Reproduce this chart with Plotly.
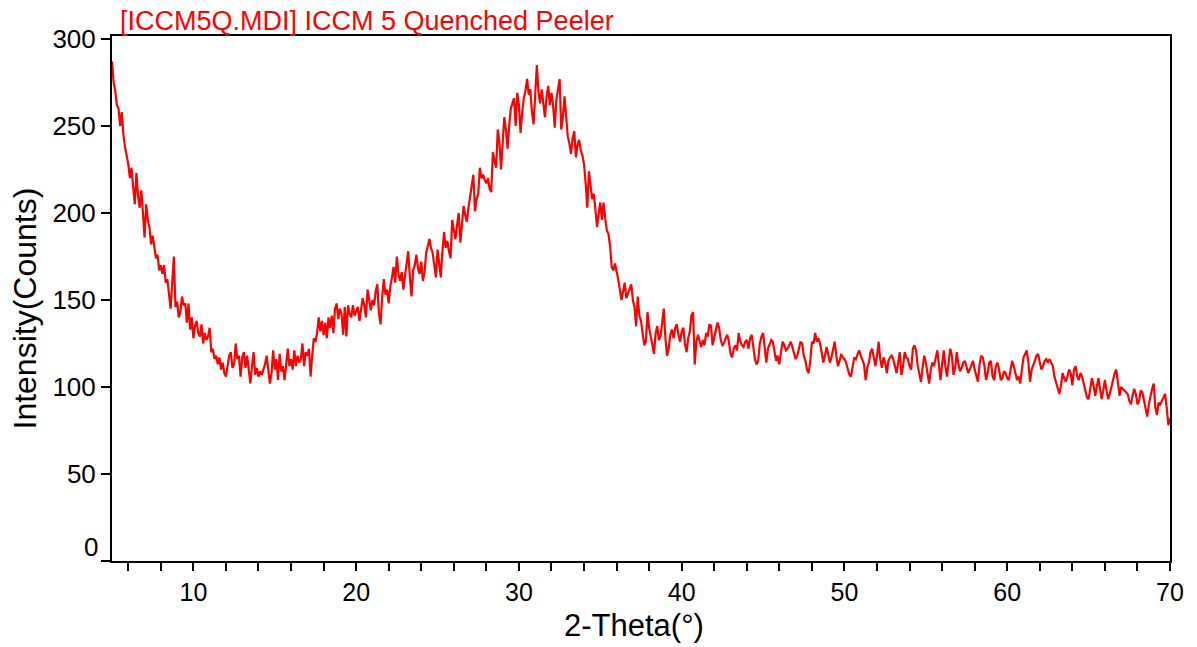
import plotly.graph_objects as go

# 2-theta sampling grid (degrees)
theta_start = 5.0
theta_step = 0.1

# Intensity (counts) at 0.1 deg steps
intensity_5_to_19_6 = [
    287, 275, 270, 262, 260, 250, 258, 245, 238, 233,
    228, 220, 226, 215, 205, 223, 210, 203, 213, 200,
    186, 205, 196, 192, 182, 187, 180, 174, 176, 167,
    170, 165, 170, 160, 162, 155, 145, 160, 175, 146,
    149, 140, 143, 152, 147, 148, 137, 148, 133, 140,
    128, 135, 138, 131, 129, 136, 125, 131, 127, 129,
    134, 120, 122, 116, 118, 113, 117, 110, 114, 108,
    106, 112, 118, 120, 111, 113, 125, 116, 118, 106,
    117, 120, 111, 118, 109, 102, 112, 120, 107, 111,
    106, 109, 107, 110, 113, 118, 110, 102, 108, 121,
    110, 116, 104, 119, 109, 112, 104, 115, 122, 112,
    116, 110, 121, 112, 118, 114, 116, 125, 112, 120,
    118, 122, 106, 118, 128, 126, 131, 140, 132, 138,
    130, 137, 128, 140, 134, 141, 131, 145, 148, 139,
    145, 142, 130, 146, 129, 147, 142,
]
intensity_19_7_to_36_8 = [
    140, 147, 141, 144, 146, 138, 145, 151, 147, 140,
    156, 149, 144, 150, 147, 155, 159, 142, 136, 152,
    162, 153, 156, 148, 158, 163, 169, 160, 175, 165,
    161, 166, 156, 164, 170, 178, 163, 152, 167, 170,
    176, 168, 165, 172, 161, 166, 177, 181, 185, 180,
    177, 170, 163, 179, 172, 163, 178, 189, 180, 184,
    178, 174, 196, 190, 185, 193, 200, 183, 193, 204,
    199, 195, 203, 209, 214, 222, 201, 208, 211, 226,
    220, 222, 219, 217, 220, 214, 212, 235, 230, 226,
    248, 241, 225, 240, 255, 248, 237, 250, 260, 263,
    266, 250, 269, 262, 246, 258, 266, 270, 277, 268,
    271, 258, 251, 268, 285, 270, 263, 271, 262, 255,
    267, 273, 262, 269, 262, 249, 265, 270, 277, 248,
    255, 267, 255, 244, 240, 234, 243, 247, 232, 239,
    242, 236, 233, 228, 217, 203, 224, 216, 208, 211,
    200, 192, 200, 206, 196, 206, 197, 190, 188, 181,
    169, 167, 171, 167, 162, 156, 150, 155, 160, 151,
    154, 157,
]
intensity_36_9_to_70 = [
    159, 150, 146, 135, 152, 141, 138, 131, 124, 126,
    143, 134, 129, 124, 119, 131, 135, 127, 129, 137,
    145, 128, 118, 122, 130, 133, 128, 134, 136, 130,
    126, 132, 134, 125, 120, 128, 132, 141, 143, 113,
    126, 130, 127, 123, 127, 124, 131, 129, 136, 135,
    124, 128, 133, 137, 134, 127, 124, 125, 128, 130,
    126, 119, 117, 122, 124, 121, 131, 126, 124, 123,
    126, 127, 122, 128, 130, 121, 116, 113, 115, 125,
    129, 131, 121, 114, 122, 125, 127, 126, 120, 115,
    118, 113, 120, 126, 124, 121, 122, 124, 126, 123,
    119, 116, 118, 122, 126, 125, 118, 115, 110, 108,
    115, 126, 125, 131, 126, 128, 125, 120, 114, 118,
    123, 119, 114, 117, 122, 126, 118, 112, 115, 119,
    117, 116, 114, 111, 107, 106, 112, 117, 116, 119,
    121, 118, 116, 113, 104, 111, 114, 120, 122, 117,
    112, 118, 126, 116, 111, 117, 114, 108, 115, 117,
    118, 116, 112, 108, 114, 120, 107, 112, 120, 117,
    116, 112, 110, 122, 124, 121, 112, 108, 103, 111,
    118, 114, 108, 102, 110, 114, 112, 116, 121, 113,
    104, 113, 121, 112, 106, 114, 122, 118, 107, 111,
    120, 113, 109, 111, 114, 115, 112, 108, 110, 112,
    115, 110, 106, 103, 113, 118, 117, 112, 104, 108,
    114, 115, 106, 104, 112, 114, 110, 104, 105, 109,
    108, 105, 104, 111, 115, 112, 108, 104, 106, 102,
    110, 117, 119, 121, 114, 103, 110, 112, 115, 118,
    119, 114, 110, 112, 115, 116, 114, 116, 114, 112,
    106, 103, 99, 96, 101, 108, 105, 103, 106, 110,
    108, 101, 110, 112, 106, 104, 108, 106, 102, 97,
    94, 93, 100, 105, 101, 95, 100, 105, 99, 93,
    98, 104, 98, 93, 96, 100, 104, 108, 110, 101,
    95, 100, 99, 98, 97, 96, 92, 90, 95, 99,
    96, 90, 92, 98, 97, 92, 89, 83, 90, 95,
    99, 102, 88, 84, 91, 90, 92, 94, 96, 88,
    78, 82,
]

intensity = intensity_5_to_19_6 + intensity_19_7_to_36_8 + intensity_36_9_to_70
two_theta = [round(theta_start + i * theta_step, 2) for i in range(len(intensity))]

x_tickvals = list(range(6, 71, 2))
x_ticktext = [str(v) if v % 10 == 0 else "" for v in x_tickvals]
y_tickvals = [0, 50, 100, 150, 200, 250, 300]
y_ticktext = ["" if v == 0 else str(v) for v in y_tickvals]

title_text = "[ICCM5Q.MDI] ICCM 5 Quenched Peeler"
x_title = "2-Theta(°)"
y_title = "Intensity(Counts)"
FONT = "Liberation Sans, Arial, sans-serif"

fig = go.Figure()
fig.add_trace(go.Scatter(
    x=two_theta, y=intensity, mode="lines",
    line=dict(color="#ff0000", width=2.2),
    showlegend=False, hoverinfo="x+y",
))

fig.update_layout(
    width=1197, height=647,
    margin=dict(l=112, r=27, t=36, b=86),
    paper_bgcolor="white", plot_bgcolor="white",
    font=dict(family=FONT, color="black"),
    showlegend=False,
)

fig.update_xaxes(
    range=[5, 70], showgrid=False, zeroline=False,
    showline=True, linecolor="black", linewidth=2, mirror=True,
    ticks="outside", ticklen=8, tickwidth=1.5, tickcolor="black",
    tickmode="array", tickvals=x_tickvals, ticktext=x_ticktext,
    tickfont=dict(size=25, family=FONT),
)
fig.update_yaxes(
    range=[0, 301.7], showgrid=False, zeroline=False,
    showline=True, linecolor="black", linewidth=2, mirror=True,
    ticks="outside", ticklen=9, tickwidth=1.5, tickcolor="black",
    tickmode="array", tickvals=y_tickvals, ticktext=y_ticktext,
    tickfont=dict(size=26, family=FONT),
)

fig.add_annotation(
    text=title_text, xref="paper", yref="paper", x=0, y=1,
    xanchor="left", yanchor="bottom", xshift=6, yshift=-2,
    showarrow=False, font=dict(size=27, color="#ff0000", family=FONT),
)
fig.add_annotation(
    text="0", xref="paper", yref="y", x=0, y=0,
    xanchor="right", yanchor="middle", xshift=-12, yshift=14,
    showarrow=False, font=dict(size=26, color="black", family=FONT),
)
# axis titles placed as in the reference
fig.add_annotation(
    text=x_title, xref="paper", yref="paper", x=0.4934, y=0,
    xanchor="center", yanchor="middle", yshift=-64,
    showarrow=False, font=dict(size=31, color="black", family=FONT),
)
fig.add_annotation(
    text=y_title, xref="paper", yref="paper", x=0, y=0.5,
    xanchor="center", yanchor="middle", xshift=-88, yshift=-10,
    textangle=-90,
    showarrow=False, font=dict(size=32, color="black", family=FONT),
)

fig.write_html("out.html")
